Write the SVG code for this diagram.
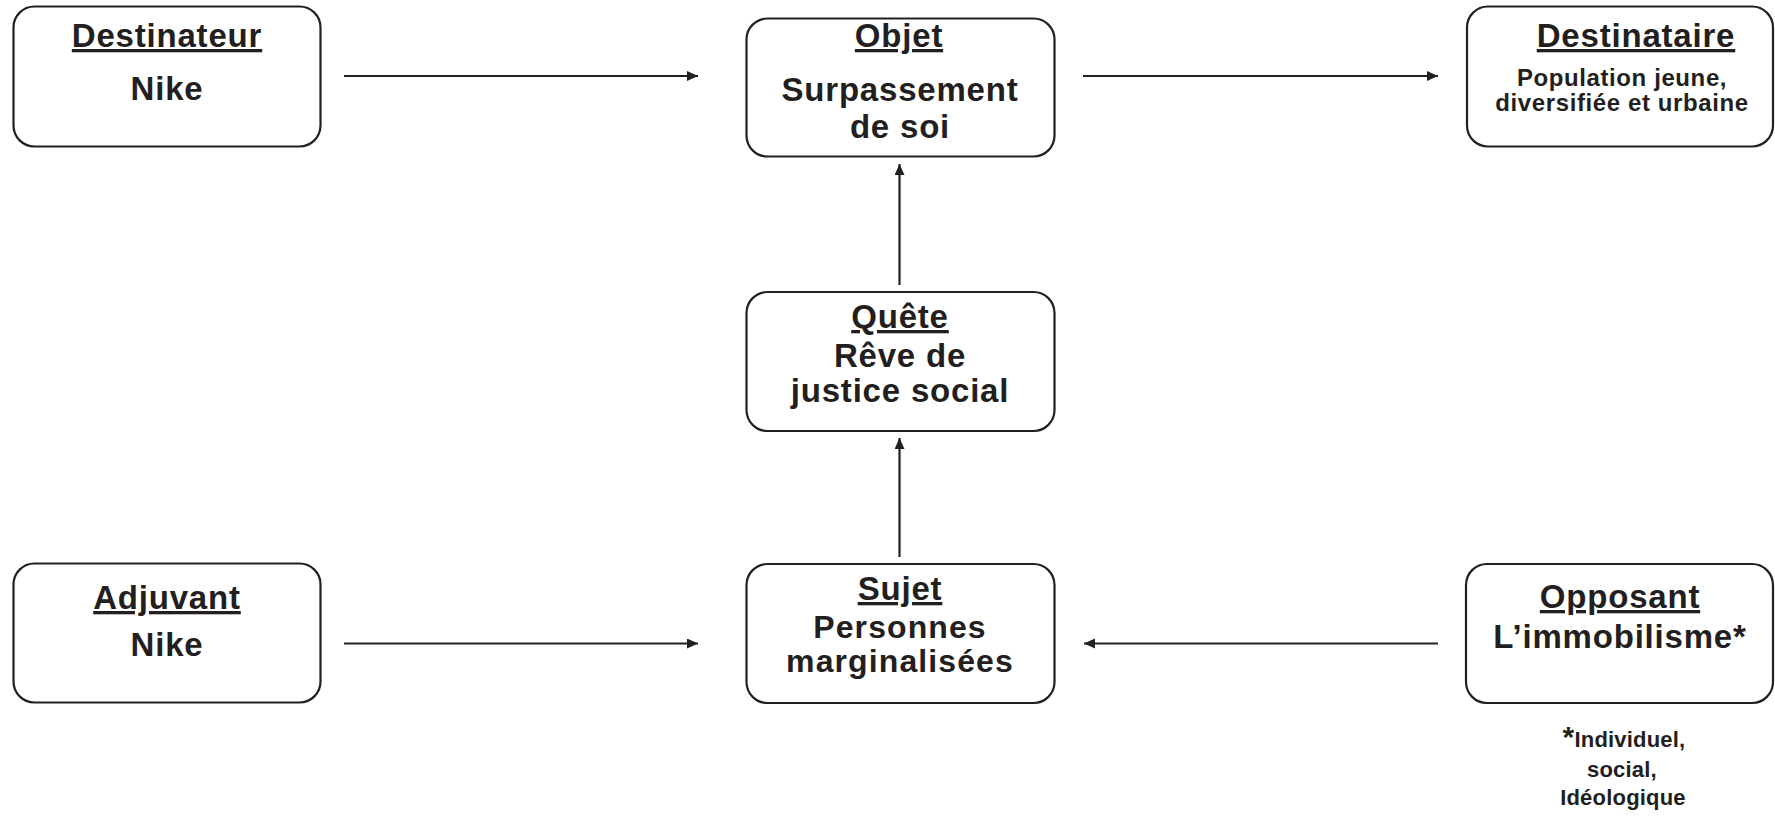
<svg xmlns="http://www.w3.org/2000/svg" width="1775" height="818" viewBox="0 0 1775 818">
<style>
.box{fill:#fff;stroke:#231f20;stroke-width:2.2}
.t{font-family:"Liberation Sans",Arial,Helvetica,sans-serif;font-weight:bold;fill:#231f20;text-anchor:middle;font-size:33px;letter-spacing:0.8px}
.u{text-decoration:underline}
.s{font-size:24px;letter-spacing:0.6px}
.m{font-size:32px;letter-spacing:1.1px}
.f{font-size:22px;letter-spacing:0.2px}
.c{fill:none;stroke:#231f20;stroke-width:2.2}
</style>
<defs>
<marker id="ah" markerUnits="userSpaceOnUse" markerWidth="12" markerHeight="11" refX="11" refY="5" orient="auto">
<path d="M0,0 L11,5 L0,10 z" fill="#231f20"/>
</marker>
</defs>
<rect width="1775" height="818" fill="#fff"/>
<g id="connectors">
<line class="c" x1="344" y1="76" x2="698" y2="76" marker-end="url(#ah)"/>
<line class="c" x1="1083" y1="76" x2="1438" y2="76" marker-end="url(#ah)"/>
<line class="c" x1="899.5" y1="285" x2="899.5" y2="164" marker-end="url(#ah)"/>
<line class="c" x1="899.5" y1="557" x2="899.5" y2="438" marker-end="url(#ah)"/>
<line class="c" x1="344" y1="643.5" x2="698" y2="643.5" marker-end="url(#ah)"/>
<line class="c" x1="1438" y1="643.5" x2="1084" y2="643.5" marker-end="url(#ah)"/>
</g>
<g id="destinateur">
<rect class="box" x="13.5" y="6.5" width="307" height="140" rx="21"/>
<text class="t u" x="167" y="47">Destinateur</text>
<text class="t" x="167" y="100">Nike</text>
</g>
<g id="objet">
<rect class="box" x="746.5" y="18.5" width="308" height="138" rx="21"/>
<text class="t u" x="899" y="47">Objet</text>
<text class="t" x="900" y="101">Surpassement</text>
<text class="t" x="900" y="138">de soi</text>
</g>
<g id="destinataire">
<rect class="box" x="1467" y="6.5" width="306" height="140" rx="21"/>
<text class="t u" x="1636" y="47">Destinataire</text>
<text class="t s" x="1622" y="86">Population jeune,</text>
<text class="t s" x="1622" y="111">diversifiée et urbaine</text>
</g>
<g id="quete">
<rect class="box" x="746.5" y="292" width="308" height="139" rx="21"/>
<text class="t u" x="900" y="328">Quête</text>
<text class="t" x="900" y="367">Rêve de</text>
<text class="t" x="900" y="402">justice social</text>
</g>
<g id="adjuvant">
<rect class="box" x="13.5" y="563.5" width="307" height="139" rx="21"/>
<text class="t u" x="167" y="609">Adjuvant</text>
<text class="t" x="167" y="656">Nike</text>
</g>
<g id="sujet">
<rect class="box" x="746.5" y="564" width="308" height="139" rx="21"/>
<text class="t u" x="900" y="600">Sujet</text>
<text class="t m" x="900" y="638">Personnes</text>
<text class="t m" x="900" y="672">marginalisées</text>
</g>
<g id="opposant">
<rect class="box" x="1466" y="564" width="307" height="139" rx="21"/>
<text class="t u" x="1620" y="608">Opposant</text>
<text class="t" x="1620" y="648">L’immobilisme*</text>
</g>
<g id="note">
<text class="t f" x="1624" y="747"><tspan font-size="30">*</tspan>Individuel,</text>
<text class="t f" x="1622" y="777">social,</text>
<text class="t f" x="1623" y="805">Idéologique</text>
</g>
</svg>
